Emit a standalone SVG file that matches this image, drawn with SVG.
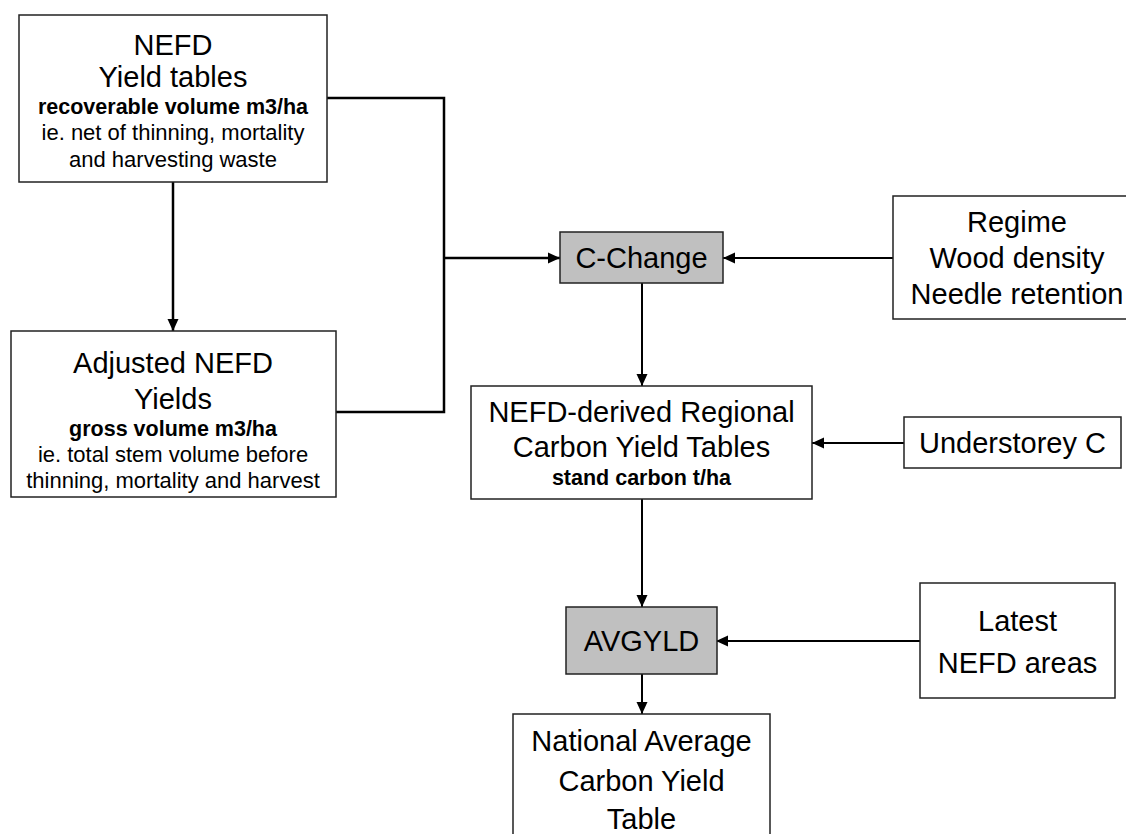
<svg xmlns="http://www.w3.org/2000/svg" width="1126" height="834" viewBox="0 0 1126 834">
<style>
.box{fill:#fff;stroke:#222;stroke-width:1.5}
.proc{fill:#c0c0c0;stroke:#222;stroke-width:1.5}
.t{font-family:"Liberation Sans",Arial,sans-serif;font-size:29px;fill:#000;text-anchor:middle}
.s{font-family:"Liberation Sans",Arial,sans-serif;font-size:22px;fill:#000;text-anchor:middle}
.b{font-family:"Liberation Sans",Arial,sans-serif;font-size:21.5px;font-weight:bold;fill:#000;text-anchor:middle}
.c{fill:none;stroke:#000;stroke-width:2}
.ct{fill:none;stroke:#000;stroke-width:2.5}
</style>
<defs>
<marker id="ah" markerWidth="13" markerHeight="13" refX="12" refY="6.5" orient="auto" markerUnits="userSpaceOnUse">
<path d="M0,1 L12,6.5 L0,12 Z" fill="#000"/>
</marker>
</defs>
<rect width="1126" height="834" fill="#fff"/>
<g id="connectors">
<path class="ct" d="M173,182 V331" marker-end="url(#ah)"/>
<path class="ct" d="M327,98 H444 V412 H336"/>
<path class="ct" d="M444,258 H560" marker-end="url(#ah)"/>
<path class="c" d="M893,258 H723" marker-end="url(#ah)"/>
<path class="c" d="M642,282 V386" marker-end="url(#ah)"/>
<path class="c" d="M904,443 H812" marker-end="url(#ah)"/>
<path class="c" d="M642,499 V607" marker-end="url(#ah)"/>
<path class="c" d="M920,641 H716" marker-end="url(#ah)"/>
<path class="c" d="M642,674 V714" marker-end="url(#ah)"/>
</g>
<g id="nefd">
<rect class="box" x="19" y="15" width="308" height="167"/>
<text class="t" x="173" y="55">NEFD</text>
<text class="t" x="173" y="87">Yield tables</text>
<text class="b" x="173" y="114">recoverable volume m3/ha</text>
<text class="s" x="173" y="140">ie. net of thinning, mortality</text>
<text class="s" x="173" y="167">and harvesting waste</text>
</g>
<g id="adjusted">
<rect class="box" x="11" y="331" width="325" height="166"/>
<text class="t" x="173" y="373">Adjusted NEFD</text>
<text class="t" x="173" y="409">Yields</text>
<text class="b" x="173" y="436">gross volume m3/ha</text>
<text class="s" x="173" y="462">ie. total stem volume before</text>
<text class="s" x="173" y="488">thinning, mortality and harvest</text>
</g>
<g id="cchange">
<rect class="proc" x="560" y="232" width="163" height="51"/>
<text class="t" x="641.5" y="268">C-Change</text>
</g>
<g id="regime">
<rect class="box" x="893" y="196" width="250" height="123"/>
<text class="t" x="1017" y="232">Regime</text>
<text class="t" x="1017" y="268">Wood density</text>
<text class="t" x="1017" y="304">Needle retention</text>
</g>
<g id="regional">
<rect class="box" x="471" y="386" width="341" height="113"/>
<text class="t" x="641.5" y="422">NEFD-derived Regional</text>
<text class="t" x="641.5" y="457">Carbon Yield Tables</text>
<text class="b" x="641.5" y="485">stand carbon t/ha</text>
</g>
<g id="understorey">
<rect class="box" x="904" y="417" width="217" height="51"/>
<text class="t" x="1012.5" y="453">Understorey C</text>
</g>
<g id="avgyld">
<rect class="proc" x="566" y="607" width="151" height="67"/>
<text class="t" x="641.5" y="651">AVGYLD</text>
</g>
<g id="latest">
<rect class="box" x="920" y="583" width="195" height="115"/>
<text class="t" x="1017.5" y="631">Latest</text>
<text class="t" x="1017.5" y="673">NEFD areas</text>
</g>
<g id="national">
<rect class="box" x="513" y="714" width="257" height="130"/>
<text class="t" x="641.5" y="751">National Average</text>
<text class="t" x="641.5" y="791">Carbon Yield</text>
<text class="t" x="641.5" y="829">Table</text>
</g>
</svg>
